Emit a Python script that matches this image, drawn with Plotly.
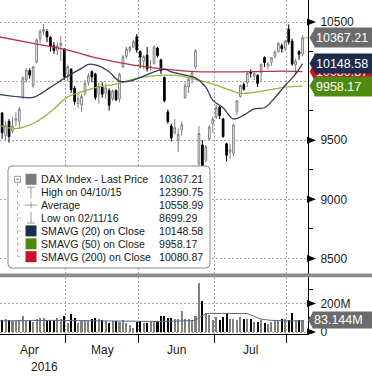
import plotly.graph_objects as go

# ---------------- data ----------------
dates = [
    "2016-04-01", "2016-04-04", "2016-04-05", "2016-04-06", "2016-04-07", "2016-04-08", "2016-04-11",
    "2016-04-12", "2016-04-13", "2016-04-14", "2016-04-15", "2016-04-18", "2016-04-19", "2016-04-20",
    "2016-04-21", "2016-04-22", "2016-04-25", "2016-04-26", "2016-04-27", "2016-04-28", "2016-04-29",
    "2016-05-02", "2016-05-03", "2016-05-04", "2016-05-05", "2016-05-06", "2016-05-09", "2016-05-10",
    "2016-05-11", "2016-05-12", "2016-05-13", "2016-05-17", "2016-05-18", "2016-05-19", "2016-05-20",
    "2016-05-23", "2016-05-24", "2016-05-25", "2016-05-26", "2016-05-27", "2016-05-30", "2016-05-31",
    "2016-06-01", "2016-06-02", "2016-06-03", "2016-06-06", "2016-06-07", "2016-06-08", "2016-06-09",
    "2016-06-10", "2016-06-13", "2016-06-14", "2016-06-15", "2016-06-16", "2016-06-17", "2016-06-20",
    "2016-06-21", "2016-06-22", "2016-06-23", "2016-06-24", "2016-06-27", "2016-06-28", "2016-06-29",
    "2016-06-30", "2016-07-01", "2016-07-04", "2016-07-05", "2016-07-06", "2016-07-07", "2016-07-08",
    "2016-07-11", "2016-07-12", "2016-07-13", "2016-07-14", "2016-07-15", "2016-07-18", "2016-07-19",
    "2016-07-20", "2016-07-21", "2016-07-22", "2016-07-25", "2016-07-26", "2016-07-27", "2016-07-28",
    "2016-07-29", "2016-08-01", "2016-08-02", "2016-08-03", "2016-08-04", "2016-08-05",
]
opens = [
    9900, 9810, 9730, 9540, 9660, 9580, 9670, 9660, 9860, 10010, 10090, 9960, 10160, 10360, 10420,
    10420, 10370, 10300, 10260, 10300, 10270,
    10060, 10100, 9940, 9810, 9800, 9900, 9990, 10080, 10060, 9890, 9950, 9900, 9920, 9850, 9920,
    9850, 10120, 10210, 10260, 10290, 10375,
    10250, 10170, 10220, 10120, 10150, 10280, 10180, 10030, 9740, 9620, 9560, 9500, 9590, 9860,
    9950, 10020, 10120, 9300, 9460, 9330, 9510, 9640,
    9700, 9780, 9680, 9470, 9400, 9390, 9740, 9870, 9970, 9990, 10080, 10040, 10050, 10070, 10200,
    10130, 10160, 10210, 10250, 10300, 10280,
    10440, 10340, 10140, 10250, 10230,
]
highs = [
    9910, 9870, 9740, 9660, 9680, 9700, 9740, 9780, 10040, 10110, 10110, 10130, 10360, 10440, 10485,
    10440, 10380, 10330, 10330, 10380, 10280,
    10140, 10110, 9960, 9890, 9890, 10010, 10070, 10090, 10070, 9990, 9990, 9980, 9940, 9930, 9930,
    10070, 10220, 10290, 10300, 10350, 10400,
    10260, 10220, 10290, 10180, 10300, 10290, 10190, 10040, 9760, 9640, 9680, 9600, 9660, 9990,
    10040, 10090, 10270, 9620, 9500, 9460, 9630, 9700,
    9800, 9790, 9690, 9480, 9470, 9640, 9840, 9970, 9990, 10080, 10100, 10080, 10060, 10150, 10210,
    10160, 10200, 10260, 10330, 10320, 10350,
    10480, 10360, 10190, 10260, 10390,
]
lows = [
    9716, 9757, 9512, 9500, 9480, 9560, 9620, 9600, 9850, 9990, 10020, 9940, 10150, 10320, 10390,
    10330, 10250, 10230, 10220, 10170, 10010,
    10000, 9900, 9800, 9770, 9740, 9880, 9960, 9990, 9840, 9810, 9860, 9850, 9750, 9830, 9830,
    9820, 10110, 10190, 10240, 10280, 10240,
    10110, 10100, 10080, 10090, 10140, 10200, 10060, 9820, 9640, 9490, 9550, 9400, 9540, 9850,
    9900, 9980, 10100, 9214, 9230, 9310, 9500, 9560,
    9680, 9680, 9520, 9320, 9340, 9370, 9710, 9860, 9920, 9950, 10030, 10010, 9950, 9990, 10120,
    10100, 10130, 10190, 10240, 10240, 10250,
    10310, 10130, 10060, 10180, 10210,
]
closes = [
    9794.64, 9822.08, 9563.36, 9624.51, 9530.62, 9622.26, 9682.99, 9761.47, 10026.10, 10093.65,
    10051.57, 10120.31, 10349.59, 10421.29, 10435.73, 10373.49, 10294.35, 10259.59, 10299.83,
    10321.16, 10038.97,
    10123.27, 9926.77, 9828.25, 9851.86, 9869.95, 9980.49, 10045.44, 10035.72, 9862.12, 9952.90,
    9890.19, 9943.23, 9795.89, 9916.02, 9842.29, 10057.31, 10205.06, 10272.71, 10286.31, 10333.23,
    10262.74,
    10204.44, 10208.00, 10103.26, 10121.08, 10287.68, 10217.03, 10088.87, 9834.62, 9657.44,
    9519.20, 9606.71, 9550.47, 9631.36, 9962.02, 10015.54, 10071.06, 10257.03, 9557.16, 9268.66,
    9447.28, 9612.27, 9680.09,
    9776.12, 9709.09, 9532.61, 9373.26, 9418.78, 9629.66, 9833.41, 9964.07, 9930.73, 10068.30,
    10066.90, 10063.13, 9981.24, 10142.01, 10156.21, 10147.46, 10198.24, 10247.76, 10319.55,
    10274.93, 10337.50,
    10330.52, 10144.35, 10170.21, 10227.86, 10367.21,
]
volume_m = [
    80, 84, 84, 89, 79, 72, 72, 79, 107, 72, 72, 65, 89, 96, 96, 79, 72, 72, 96, 89, 110,
    61, 124, 96, 61, 72, 79, 84, 89, 96, 89, 84, 72, 61, 72, 72, 65, 84, 61, 49, 26, 65,
    72, 61, 61, 72, 72, 65, 107, 107, 96, 96, 89, 89, 147, 89, 89, 79, 107, 345, 219, 135, 119, 84,
    103, 84, 103, 131, 89, 89, 84, 103, 89, 89, 89, 65, 65, 79, 61, 56, 65, 84, 72, 89, 89,
    84, 131, 84, 79, 83.144,
]

sma20_dates = ["2016-04-04", "2016-04-12", "2016-04-18", "2016-04-25", "2016-05-02", "2016-05-06",
               "2016-05-10", "2016-05-13", "2016-05-19", "2016-05-24", "2016-05-27", "2016-06-01",
               "2016-06-07", "2016-06-10", "2016-06-14", "2016-06-20", "2016-06-23", "2016-06-28",
               "2016-06-30", "2016-07-05", "2016-07-08", "2016-07-13", "2016-07-18", "2016-07-21",
               "2016-07-26", "2016-07-29", "2016-08-03", "2016-08-05"]
sma20_vals = [9887, 9867, 9862, 9947, 10042, 10108, 10142, 10130, 10079, 10000, 10000, 10031,
              10079, 10099, 10079, 10051, 10028, 9950, 9839, 9775, 9680, 9712, 9765, 9775,
              9860, 9965, 10060, 10148.58]

sma50_dates = ["2016-04-04", "2016-04-11", "2016-04-18", "2016-04-25", "2016-05-02", "2016-05-06",
               "2016-05-13", "2016-05-23", "2016-05-30", "2016-06-06", "2016-06-13", "2016-06-17",
               "2016-06-24", "2016-07-01", "2016-07-07", "2016-07-12", "2016-07-15", "2016-07-22",
               "2016-07-29", "2016-08-05"]
sma50_vals = [9627, 9599, 9642, 9740, 9867, 9909, 9952, 9975, 10017, 10042, 10051, 10042,
              10008, 9966, 9924, 9898, 9901, 9924, 9950, 9958.17]

sma200_dates = ["2016-04-04", "2016-04-18", "2016-05-02", "2016-05-13", "2016-05-30", "2016-06-13",
                "2016-06-23", "2016-07-01", "2016-07-15", "2016-07-29", "2016-08-05"]
sma200_vals = [10376, 10319, 10263, 10192, 10136, 10099, 10080, 10078, 10080, 10085, 10080.87]

volma_dates = ["2016-04-04", "2016-04-11", "2016-04-19", "2016-04-27", "2016-05-05", "2016-05-13",
               "2016-05-24", "2016-06-01", "2016-06-09", "2016-06-17", "2016-06-22", "2016-06-23",
               "2016-06-27", "2016-06-28", "2016-06-29", "2016-07-11", "2016-07-14", "2016-07-18",
               "2016-07-20", "2016-07-25", "2016-08-01", "2016-08-05"]
volma_vals = [78, 80, 80, 82, 80, 79, 76, 72, 74, 78, 80, 86, 115, 128, 131, 131, 130, 110,
              90, 82, 78, 76]

price_ticks = [8500, 9000, 9500, 10000, 10500]
price_tick_text = ["8500", "9000", "9500", "", "10500"]
price_minor = [8750, 9250, 9750, 10250]
vol_ticks = [0, 200]
vol_tick_text = ["0", "200M"]
vol_minor = [100, 300]

legend_labels = ["DAX Index - Last Price", "High on 04/10/15", "Average", "Low on 02/11/16",
                 "SMAVG (20) on Close", "SMAVG (50) on Close", "SMAVG (200) on Close"]
legend_values = ["10367.21", "12390.75", "10558.99", "8699.29", "10148.58", "9958.17", "10080.87"]

last_price = 10367.21
last_sma20 = 10148.58
last_sma50 = 9958.17
last_sma200 = 10080.87
last_volume = 83.144
month_names = {"04": "Apr", "05": "May", "06": "Jun", "07": "Jul", "08": "Aug"}

# ---------------- styling / geometry ----------------
FONT = "Liberation Sans, Arial, sans-serif"
W, H = 372, 376
PW, PH = 308, 334          # plot area in pixels (l=0, t=0)
C_UP_LINE = "#808080"
C_NAVY = "#1b2d4b"
C_NAVY_LINE = "#2c4060"
C_GREEN = "#4f8a10"
C_GREEN_LINE = "#9fb040"
C_RED = "#c8102e"
C_RED_LINE = "#b8304a"
C_GRAY_BOX = "#6b6b6b"
GRID = "#a8a8a8"

PX_PER_DAY = 3.453
X0_PX = -4.8
x_range = [(0 - X0_PX) / PX_PER_DAY, (PW - X0_PX) / PX_PER_DAY]

PX_PER_PT = 0.118
y_top = 10500 + 22 / PX_PER_PT
y_bot = 10500 - (273 - 22) / PX_PER_PT
VPX = 14.3 / 100.0         # pixels per million
v_top = (332 - 277) / VPX
v_bot = -(334 - 332) / VPX


def pxx(x):
    return x / PW


def pxy(y):
    return 1 - y / PH


idx = {d: i for i, d in enumerate(dates)}
xi = list(range(len(dates)))

# month boundaries & centers from dates
boundaries = []
months = {}
for i, d in enumerate(dates):
    m = d[5:7]
    months.setdefault(m, []).append(i)
    if i > 0 and dates[i - 1][5:7] != m:
        boundaries.append(i - 0.5)

fig = go.Figure()

fig.add_trace(go.Scatter(x=[idx[d] for d in sma200_dates], y=sma200_vals, mode="lines",
                         line=dict(color=C_RED_LINE, width=1.3, shape="spline"),
                         xaxis="x", yaxis="y", hoverinfo="skip"))
fig.add_trace(go.Scatter(x=[idx[d] for d in sma50_dates], y=sma50_vals, mode="lines",
                         line=dict(color=C_GREEN_LINE, width=1.3, shape="spline"),
                         xaxis="x", yaxis="y", hoverinfo="skip"))
fig.add_trace(go.Scatter(x=[idx[d] for d in sma20_dates], y=sma20_vals, mode="lines",
                         line=dict(color=C_NAVY_LINE, width=1.3, shape="spline"),
                         xaxis="x", yaxis="y", hoverinfo="skip"))
fig.add_trace(go.Candlestick(
    x=xi, open=opens, high=highs, low=lows, close=closes,
    increasing=dict(line=dict(color=C_UP_LINE, width=1), fillcolor="white"),
    decreasing=dict(line=dict(color="black", width=1), fillcolor="black"),
    xaxis="x", yaxis="y", hoverinfo="skip", whiskerwidth=0))

vol_colors = ["#808080" if c > o else "#000000" for o, c in zip(opens, closes)]
fig.add_trace(go.Bar(x=xi, y=volume_m, marker=dict(color=vol_colors, line=dict(width=0)),
                     width=0.6, xaxis="x2", yaxis="y2", hoverinfo="skip"))
fig.add_trace(go.Scatter(x=[idx[d] for d in volma_dates], y=volma_vals, mode="lines",
                         line=dict(color="#4f6b8a", width=1), xaxis="x2", yaxis="y2",
                         hoverinfo="skip"))

shapes = []
annotations = []

# separator bar
shapes.append(dict(type="rect", xref="paper", yref="paper", x0=0, x1=pxx(W + 2),
                   y0=pxy(277.3), y1=pxy(273.6), fillcolor="#8c8c8c", line=dict(width=0),
                   layer="above"))

# tick arrows on the right axes
for v, t in zip(price_ticks, price_tick_text):
    if t:
        h = 3.5 / PX_PER_PT
        shapes.append(dict(type="path", xref="paper", yref="y",
                           path=f"M {pxx(307)},{v + h} L {pxx(316)},{v} L {pxx(307)},{v - h} Z",
                           fillcolor="black", line=dict(width=0)))
for v in vol_ticks:
    h = 3.5 / VPX
    shapes.append(dict(type="path", xref="paper", yref="y2",
                       path=f"M {pxx(307)},{v + h} L {pxx(316)},{v} L {pxx(307)},{v - h} Z",
                       fillcolor="black", line=dict(width=0)))

# last-price line
shapes.append(dict(type="line", xref="x", yref="y", x0=len(dates) - 1 + 0.4, x1=x_range[1],
                   y0=last_price, y1=last_price, line=dict(color="#d9a048", width=1)))

# value boxes (order: gray, red, navy, green)
boxes = [(last_price, C_GRAY_BOX), (last_sma200, C_RED), (last_sma20, C_NAVY), (last_sma50, C_GREEN)]
for v, col in boxes:
    h = 9.5 / PX_PER_PT
    shapes.append(dict(type="path", xref="paper", yref="y",
                       path=f"M {pxx(309.5)},{v} L {pxx(315)},{v + h} L {pxx(315)},{v - h} Z",
                       fillcolor=col, line=dict(width=0)))
    annotations.append(dict(x=pxx(314), xref="paper", y=v, yref="y", xanchor="left",
                            yanchor="middle", text=f"{v:.2f}", showarrow=False, align="left",
                            font=dict(color="white", size=12.5, family=FONT), bgcolor=col,
                            width=64, height=17, borderpad=1))
# volume box
hv = 8 / VPX
shapes.append(dict(type="path", xref="paper", yref="y2",
                   path=f"M {pxx(308)},{last_volume} L {pxx(313)},{last_volume + hv} L {pxx(313)},{last_volume - hv} Z",
                   fillcolor=C_GRAY_BOX, line=dict(width=0)))
annotations.append(dict(x=pxx(312), xref="paper", y=last_volume, yref="y2", xanchor="left",
                        yanchor="middle", text=f"{last_volume:.3f}M", showarrow=False, align="left",
                        font=dict(color="white", size=12.5, family=FONT), bgcolor=C_GRAY_BOX,
                        width=64, height=14, borderpad=1))

# month labels (only months with enough visible days)
for m, ids in months.items():
    if len(ids) < 10:
        continue
    c = sum(ids) / len(ids)
    annotations.append(dict(x=c, xref="x2", y=pxy(350), yref="paper", text=month_names[m],
                            showarrow=False, xanchor="center", yanchor="middle",
                            font=dict(size=12, color="#222", family=FONT)))
annotations.append(dict(x=pxx(44), xref="paper", y=pxy(367), yref="paper", text=dates[0][:4],
                        showarrow=False, xanchor="center", yanchor="middle",
                        font=dict(size=12, color="#222", family=FONT)))

# legend box
lx0, lx1, ly0, ly1, r = 8, 210, 166, 268, 4
P = lambda x, y: f"{pxx(x)},{pxy(y)}"
legend_path = (f"M {P(lx0 + r, ly0)} L {P(lx1 - r, ly0)} Q {P(lx1, ly0)} {P(lx1, ly0 + r)} "
               f"L {P(lx1, ly1 - r)} Q {P(lx1, ly1)} {P(lx1 - r, ly1)} L {P(lx0 + r, ly1)} "
               f"Q {P(lx0, ly1)} {P(lx0, ly1 - r)} L {P(lx0, ly0 + r)} Q {P(lx0, ly0)} {P(lx0 + r, ly0)} Z")
shapes.append(dict(type="path", xref="paper", yref="paper", path=legend_path,
                   fillcolor="white", line=dict(color="#8a8a8a", width=1), layer="above"))

row_y = [179.3 + 12.9 * k for k in range(7)]
tree = dict(color="#b8b8b8", width=1, dash="dot")
shapes.append(dict(type="line", xref="paper", yref="paper", x0=pxx(17.5), x1=pxx(17.5),
                   y0=pxy(183), y1=pxy(row_y[-1]), line=tree))
for yy in row_y[1:]:
    shapes.append(dict(type="line", xref="paper", yref="paper", x0=pxx(17.5), x1=pxx(24),
                       y0=pxy(yy), y1=pxy(yy), line=tree))
shapes.append(dict(type="rect", xref="paper", yref="paper", x0=pxx(14.5), x1=pxx(20.5),
                   y0=pxy(182.3), y1=pxy(176.3), line=dict(color="#a0a0a0", width=1),
                   fillcolor="white"))
shapes.append(dict(type="line", xref="paper", yref="paper", x0=pxx(16), x1=pxx(19),
                   y0=pxy(179.3), y1=pxy(179.3), line=dict(color="#808080", width=1)))

sq_cols = {0: "#7b7b7b", 4: C_NAVY, 5: C_GREEN, 6: C_RED}
for k, col in sq_cols.items():
    yc = row_y[k]
    shapes.append(dict(type="rect", xref="paper", yref="paper", x0=pxx(25.5), x1=pxx(36.5),
                       y0=pxy(yc + 5.5), y1=pxy(yc - 5.5), fillcolor=col, line=dict(width=0)))
sym = dict(color="#9a9a9a", width=1)
yc = row_y[1]
shapes.append(dict(type="line", xref="paper", yref="paper", x0=pxx(27), x1=pxx(35),
                   y0=pxy(yc - 5), y1=pxy(yc - 5), line=sym))
shapes.append(dict(type="line", xref="paper", yref="paper", x0=pxx(31), x1=pxx(31),
                   y0=pxy(yc - 5), y1=pxy(yc + 6), line=sym))
yc = row_y[2]
shapes.append(dict(type="line", xref="paper", yref="paper", x0=pxx(25), x1=pxx(37),
                   y0=pxy(yc), y1=pxy(yc), line=sym))
shapes.append(dict(type="line", xref="paper", yref="paper", x0=pxx(31), x1=pxx(31),
                   y0=pxy(yc - 3), y1=pxy(yc + 3), line=sym))
yc = row_y[3]
shapes.append(dict(type="line", xref="paper", yref="paper", x0=pxx(27), x1=pxx(35),
                   y0=pxy(yc + 5), y1=pxy(yc + 5), line=sym))
shapes.append(dict(type="line", xref="paper", yref="paper", x0=pxx(31), x1=pxx(31),
                   y0=pxy(yc - 6), y1=pxy(yc + 5), line=sym))

for k, (lab, val) in enumerate(zip(legend_labels, legend_values)):
    annotations.append(dict(x=pxx(39), xref="paper", y=pxy(row_y[k]), yref="paper", text=lab,
                            showarrow=False, xanchor="left", yanchor="middle",
                            font=dict(size=10.6, color="#1a1a1a", family=FONT)))
    annotations.append(dict(x=pxx(157), xref="paper", y=pxy(row_y[k]), yref="paper", text=val,
                            showarrow=False, xanchor="left", yanchor="middle",
                            font=dict(size=10.6, color="#1a1a1a", family=FONT)))

axis_font = dict(size=12, color="#1a1a1a", family=FONT)
fig.update_layout(
    width=W, height=H, margin=dict(l=0, r=W - PW, t=0, b=H - PH, pad=0),
    paper_bgcolor="white", plot_bgcolor="white", showlegend=False, bargap=0,
    xaxis=dict(domain=[0, 1], anchor="y", range=x_range, tickmode="array", tickvals=boundaries,
               showticklabels=False, ticks="", showgrid=True, gridcolor=GRID, griddash="2px,2px",
               gridwidth=1, zeroline=False, showline=False, rangeslider=dict(visible=False),
               fixedrange=True),
    xaxis2=dict(domain=[0, 1], anchor="y2", range=x_range, tickmode="array", tickvals=boundaries,
                showticklabels=False, ticks="outside", ticklen=8, tickcolor="black", tickwidth=1,
                showgrid=True, gridcolor=GRID, griddash="2px,2px", gridwidth=1, zeroline=False,
                showline=True, linecolor="black", linewidth=1, fixedrange=True),
    yaxis=dict(domain=[pxy(273.5), 1], anchor="x", side="right", range=[y_bot, y_top],
               tickmode="array", tickvals=price_ticks, ticktext=price_tick_text, tickfont=axis_font,
               ticks="", ticklabelstandoff=9, showgrid=True, gridcolor=GRID, griddash="2px,2px",
               zeroline=False, showline=True, linecolor="black", linewidth=1, automargin=False,
               minor=dict(tickmode="array", tickvals=price_minor, ticks="outside", ticklen=4,
                          tickcolor="black", showgrid=False),
               fixedrange=True),
    yaxis2=dict(domain=[0, pxy(277.3)], anchor="x2", side="right", range=[v_bot, v_top],
                tickmode="array", tickvals=vol_ticks, ticktext=vol_tick_text, tickfont=axis_font,
                ticks="", ticklabelstandoff=9, showgrid=True, gridcolor=GRID, griddash="2px,2px",
                zeroline=False, showline=True, linecolor="black", linewidth=1, automargin=False,
                minor=dict(tickmode="array", tickvals=vol_minor, ticks="outside", ticklen=4,
                           tickcolor="black", showgrid=False),
                fixedrange=True),
    shapes=shapes, annotations=annotations,
    font=dict(family=FONT),
)

fig.write_html("out.html", config={"displayModeBar": False})
